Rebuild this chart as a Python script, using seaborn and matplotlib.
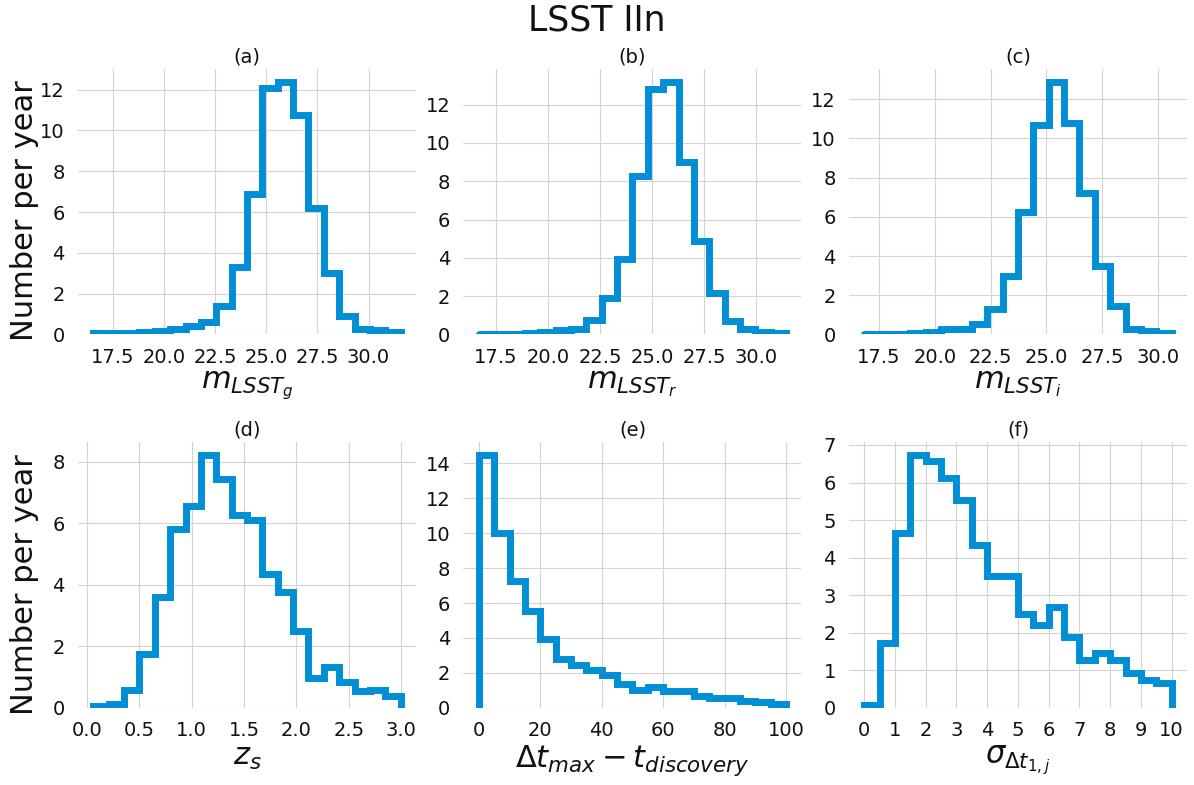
import numpy as np
import pandas as pd
import matplotlib
matplotlib.use("Agg")
import matplotlib.pyplot as plt
from matplotlib.ticker import MultipleLocator
import seaborn as sns

# ---------------- data ----------------
panel_letters = ["(a)", "(b)", "(c)", "(d)", "(e)", "(f)"]
x_labels = [r"$m_{LSST_g}$", r"$m_{LSST_r}$", r"$m_{LSST_i}$",
            r"$z_s$", r"$\Delta t_{max} - t_{discovery}$", r"$\sigma_{\Delta t_{1,j}}$"]
y_label = "Number per year"
fig_title = "LSST IIn"

range_g = [16.54, 31.57]
counts_g = [0.05, 0.05, 0.05, 0.10, 0.15, 0.28, 0.40, 0.60, 1.40, 3.30,
            6.87, 12.10, 12.39, 10.76, 6.20, 3.02, 0.90, 0.27, 0.20, 0.10]

range_r = [16.69, 31.43]
counts_r = [0.05, 0.05, 0.05, 0.08, 0.15, 0.25, 0.30, 0.75, 1.90, 3.95,
            8.30, 12.80, 13.20, 9.00, 4.90, 2.15, 0.70, 0.30, 0.15, 0.10]

range_i = [16.85, 30.60]
counts_i = [0.05, 0.05, 0.05, 0.08, 0.12, 0.30, 0.30, 0.55, 1.30, 3.00,
            6.25, 10.70, 12.90, 10.80, 7.20, 3.50, 1.45, 0.27, 0.20, 0.10]

range_z = [0.06, 2.995]
counts_z = [0.05, 0.12, 0.58, 1.77, 3.60, 5.83, 6.58, 8.22, 7.46, 6.26,
            6.12, 4.36, 3.78, 2.51, 0.99, 1.34, 0.83, 0.55, 0.60, 0.39]

range_dt = [0.0, 100.0]
counts_dt = [14.45, 10.02, 7.26, 5.52, 3.92, 2.78, 2.48, 2.19, 1.87, 1.35,
             1.05, 1.20, 0.97, 0.97, 0.67, 0.59, 0.59, 0.38, 0.32, 0.25]

range_sig = [0.0, 10.0]
counts_sig = [0.07, 1.73, 4.67, 6.73, 6.58, 6.12, 5.53, 4.34, 3.52, 3.52,
              2.50, 2.22, 2.68, 1.88, 1.27, 1.46, 1.28, 0.93, 0.75, 0.66]

# tick spacing (x, y) per panel
tick_steps = [(2.5, 2), (2.5, 2), (2.5, 2), (0.5, 2), (20, 2), (1, 1)]

# ---------------- style ----------------
BLUE = "#008fd5"
LW = 5.0

sns.set_style("whitegrid", rc={
    "axes.edgecolor": "none",
    "grid.color": "#d3d3d3",
    "grid.linewidth": 1.0,
    "xtick.bottom": False,
    "ytick.left": False,
    "text.color": "#111111",
    "axes.labelcolor": "#111111",
    "xtick.color": "#111111",
    "ytick.color": "#111111",
})
plt.rcParams["font.family"] = ["DejaVu Sans"]
plt.rcParams["mathtext.fontset"] = "dejavusans"

fig, axes = plt.subplots(2, 3, figsize=(11.94, 7.85), dpi=100)
fig.subplots_adjust(left=0.0653, right=0.9941, top=0.9121, bottom=0.0981,
                    wspace=0.1405, hspace=0.4068)

panels = [(range_g, counts_g), (range_r, counts_r), (range_i, counts_i),
          (range_z, counts_z), (range_dt, counts_dt), (range_sig, counts_sig)]


def draw(ax, rng, counts):
    lo, hi = rng
    edges = np.linspace(lo, hi, len(counts) + 1)
    centers = 0.5 * (edges[:-1] + edges[1:])
    df = pd.DataFrame({"x": centers, "w": counts})
    sns.histplot(data=df, x="x", weights="w", bins=edges.tolist(),
                 element="step", fill=False, color=BLUE, linewidth=LW,
                 solid_joinstyle="miter", ax=ax)
    # outer edges of the step outline down to the baseline
    ax.vlines([edges[0], edges[-1]], 0, [counts[0], counts[-1]],
              color=BLUE, linewidth=LW, capstyle="projecting")
    span = hi - lo
    ax.set_xlim(lo - 0.05 * span, hi + 0.05 * span)


for i, (ax, (rng, counts)) in enumerate(zip(axes.flat, panels)):
    draw(ax, rng, counts)
    ax.set_title(panel_letters[i], fontsize=14, pad=5)
    ax.set_xlabel(x_labels[i], fontsize=22, labelpad=2)
    if i % 3 == 0:
        ax.set_ylabel(y_label, fontsize=22)
        ax.yaxis.set_label_coords(-0.115, 0.465)
    else:
        ax.set_ylabel("")
    xs, ys = tick_steps[i]
    ax.xaxis.set_major_locator(MultipleLocator(xs))
    ax.yaxis.set_major_locator(MultipleLocator(ys))
    ax.tick_params(axis="both", labelsize=14, pad=6)
    ax.grid(True)
    for s in ax.spines.values():
        s.set_visible(False)

fig.suptitle(fig_title, fontsize=25, y=0.995)

fig.savefig("out.png", dpi=100)
